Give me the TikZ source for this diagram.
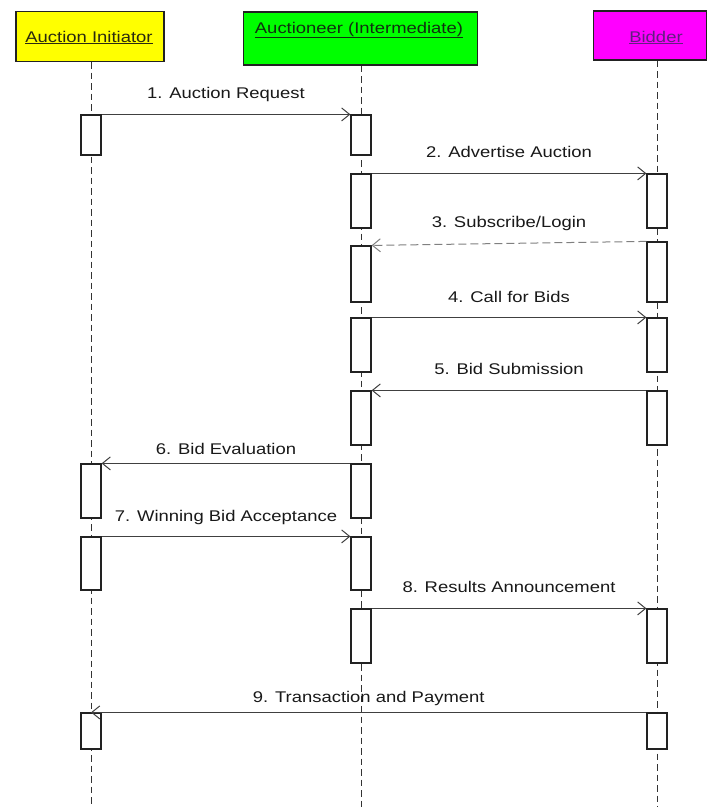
\documentclass[tikz,border=0pt]{standalone}
\usepackage{fontspec}
\setmainfont[FakeStretch=1.19]{Liberation Sans}
\usetikzlibrary{arrows.meta}
\definecolor{initxt}{HTML}{2A2A10}
\definecolor{auctxt}{HTML}{103010}
\definecolor{bidtxt}{HTML}{602080}
\definecolor{boxline}{HTML}{222222}
\definecolor{hdyellow}{HTML}{FFFF00}
\definecolor{hdgreen}{HTML}{00FF00}
\definecolor{hdmagenta}{HTML}{FF00FF}
\newcommand\actbox[4]{\node[actbox, minimum height={#4-#3}] (#1) at (#2,{(#3+#4)/2}) {};}
\begin{document}
\begin{tikzpicture}[x=1pt,y=-1pt,
  headbox/.style={draw=boxline, line width=1.2pt, inner sep=0pt},
  headtxt/.style={anchor=base, inner sep=0pt, font=\fontsize{15.5}{18}\selectfont},
  life/.style={draw=black!80, line width=1pt, dash pattern=on 6.5pt off 4pt},
  actbox/.style={draw=boxline, fill=white, line width=1.2pt, minimum width=20pt, inner sep=0pt},
  msg/.style={draw=black!75, line width=1pt, -{Straight Barb[length=8pt,width=13pt,line width=1pt]}},
  reply/.style={msg, draw=black!50, dash pattern=on 8pt off 4pt},
  lbl/.style={midway, anchor=base, inner sep=0pt, text=black!90, font=\fontsize{15.5}{18}\selectfont}
]
\useasboundingbox[fill=white] (0,0) rectangle (707,807);

% headers
\node[headbox, fill=hdyellow, minimum width=148pt, minimum height=50pt] (hi) at (90,36.5) {};
\node[headbox, fill=hdgreen, minimum width=234pt, minimum height=53pt] (ha) at (360.5,38.5) {};
\node[headbox, fill=hdmagenta, minimum width=113pt, minimum height=49pt] (hb) at (650,35.5) {};
\node[headtxt, text=initxt] (ti) at (89,42) {\underline{Auction Initiator}};
\node[headtxt, text=auctxt] (ta) at (359,33) {\underline{Auctioneer (Intermediate)}};
\node[headtxt, text=bidtxt] (tb) at (656,42) {\underline{Bidder}};

% lifelines
\coordinate (li) at (91,807);
\coordinate (la) at (361,807);
\coordinate (lb) at (657,807);
\draw[life] (hi.south -| li) -- (li);
\draw[life] (ha.south -| la) -- (la);
\draw[life] (hb.south -| lb) -- (lb);

% activation boxes
\actbox{a1}{91}{115}{155}
\actbox{a2}{91}{464}{518}
\actbox{a3}{91}{537}{590}
\actbox{a4}{91}{713}{749}

\actbox{b1}{361}{115}{155}
\actbox{b2}{361}{174}{228}
\actbox{b3}{361}{246}{302}
\actbox{b4}{361}{318}{372}
\actbox{b5}{361}{391}{445}
\actbox{b6}{361}{464}{518}
\actbox{b7}{361}{537}{590}
\actbox{b8}{361}{609}{663}

\actbox{c1}{657}{174}{228}
\actbox{c2}{657}{242}{302}
\actbox{c3}{657}{318}{372}
\actbox{c4}{657}{391}{445}
\actbox{c5}{657}{609}{663}
\actbox{c6}{657}{713}{749}

% messages
\draw[msg] (a1.north east) -- node[lbl, yshift=16pt] {1. Auction Request} (b1.north west);
\draw[msg] (b2.north east) -- node[lbl, yshift=16pt] {2. Advertise Auction} (c1.north west);
\draw[reply] (c2.north west) -- node[lbl, yshift=16pt] {3. Subscribe/Login} (b3.north east);
\draw[msg] (b4.north east) -- node[lbl, yshift=15pt] {4. Call for Bids} (c3.north west);
\draw[msg] (c4.north west) -- node[lbl, yshift=16pt] {5. Bid Submission} (b5.north east);
\draw[msg] (b6.north west) -- node[lbl, yshift=9pt] {6. Bid Evaluation} (a2.north east);
\draw[msg] (a3.north east) -- node[lbl, yshift=15pt] {7. Winning Bid Acceptance} (b7.north west);
\draw[msg] (b8.north east) -- node[lbl, yshift=16pt] {8. Results Announcement} (c5.north west);
\draw[msg] (c6.north west) -- node[lbl, yshift=10pt] {9. Transaction and Payment} (a4.north);
\end{tikzpicture}
\end{document}
